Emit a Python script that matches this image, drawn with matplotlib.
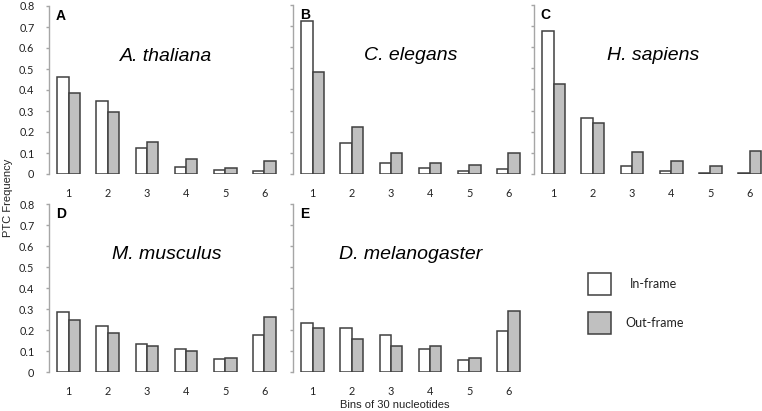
import numpy as np
import matplotlib
matplotlib.use("Agg")
import matplotlib.pyplot as plt
from matplotlib.patches import Rectangle

bins = [1, 2, 3, 4, 5, 6]
yticks = [0, 0.1, 0.2, 0.3, 0.4, 0.5, 0.6, 0.7, 0.8]
ytick_labels = ["0", "0.1", "0.2", "0.3", "0.4", "0.5", "0.6", "0.7", "0.8"]

at_in = [0.461, 0.347, 0.124, 0.033, 0.019, 0.014]
at_out = [0.385, 0.294, 0.151, 0.071, 0.028, 0.061]
ce_in = [0.725, 0.147, 0.052, 0.030, 0.013, 0.025]
ce_out = [0.483, 0.221, 0.099, 0.050, 0.041, 0.099]
hs_in = [0.679, 0.264, 0.036, 0.013, 0.003, 0.004]
hs_out = [0.428, 0.243, 0.104, 0.061, 0.036, 0.110]
mm_in = [0.286, 0.220, 0.133, 0.111, 0.061, 0.177]
mm_out = [0.247, 0.188, 0.122, 0.101, 0.067, 0.263]
dm_in = [0.235, 0.208, 0.174, 0.110, 0.056, 0.197]
dm_out = [0.208, 0.158, 0.126, 0.122, 0.067, 0.290]

W, H = 762, 411
fig = plt.figure(figsize=(W / 100, H / 100), dpi=100)

axis_col = "#a6a6a6"
edge_col = "#404040"
gray_col = "#c0c0c0"
tick_font = "Lato"
bw = 0.29


def px_axes(x0, y_top, x1, y_bot):
    # pixel box -> figure fraction
    return fig.add_axes([x0 / W, 1 - y_bot / H, (x1 - x0) / W, (y_bot - y_top) / H])


def panel(box, vin, vout, letter, species, show_y, xmax=6.5):
    ax = px_axes(*box)
    x = np.array(bins)
    ax.bar(x - bw / 2, vin, bw, color="white", edgecolor=edge_col, linewidth=1.1)
    ax.bar(x + bw / 2, vout, bw, color=gray_col, edgecolor=edge_col, linewidth=1.1)
    ax.set_xlim(0.5, xmax)
    ax.set_ylim(0, 0.8)
    for s in ["top", "right", "bottom"]:
        ax.spines[s].set_visible(False)
    ax.spines["left"].set_color(axis_col)
    ax.spines["left"].set_linewidth(1.0)
    ax.set_yticks(yticks)
    ax.set_yticklabels(ytick_labels if show_y else [], fontsize=7.8,
                       family=tick_font, color="#222222")
    ax.tick_params(axis="y", length=2.5, width=1.0, color=axis_col, pad=8)
    ax.set_xticks(bins)
    ax.set_xticklabels([str(b) for b in bins], fontsize=7.8, family=tick_font,
                       color="#222222")
    ax.tick_params(axis="x", length=0, pad=10)
    ax.patch.set_alpha(0)
    ax.text(0.03, 0.985, letter, transform=ax.transAxes, fontsize=10,
            fontweight="bold", family="Liberation Sans", va="top", ha="left")
    ax.text(0.5, 0.70, species, transform=ax.transAxes, fontsize=14,
            style="italic", family="Liberation Sans", ha="center", va="center")
    return ax


axA = panel((49, 6, 284, 174), at_in, at_out, "A", "A. thaliana", True)
axB = panel((293, 5, 528, 174), ce_in, ce_out, "B", "C. elegans", False)
axC = panel((534, 5, 762, 174), hs_in, hs_out, "C", "H. sapiens", False,
            xmax=0.5 + 228 / 39.2)
axD = panel((49, 204, 284, 372), mm_in, mm_out, "D", "M. musculus", True)
axE = panel((293, 204, 528, 372), dm_in, dm_out, "E", "D. melanogaster", False)

# species label positions tweak
axC.texts[1].set_x((653 - 534) / 228)

fig.text(8 / W, 1 - 198 / H, "PTC Frequency", rotation=90, fontsize=8,
         family="Liberation Sans", ha="center", va="center", color="#222222")
fig.text(395 / W, 1 - 405 / H, "Bins of 30 nucleotides", fontsize=8,
         family="Liberation Sans", ha="center", va="center", color="#222222")

# legend
for (y0, y1, fc, label, tx) in [(273, 295, "white", "In-frame", 630),
                                (312, 334, gray_col, "Out-frame", 625)]:
    fig.patches.append(Rectangle((588 / W, 1 - y1 / H), 23 / W, (y1 - y0) / H,
                                 transform=fig.transFigure, facecolor=fc,
                                 edgecolor=edge_col, linewidth=1.1))
    fig.text(tx / W, 1 - (y0 + y1) / 2 / H, label, fontsize=9,
             family=tick_font, ha="left", va="center", color="#222222")

fig.savefig("out.png", dpi=100)
